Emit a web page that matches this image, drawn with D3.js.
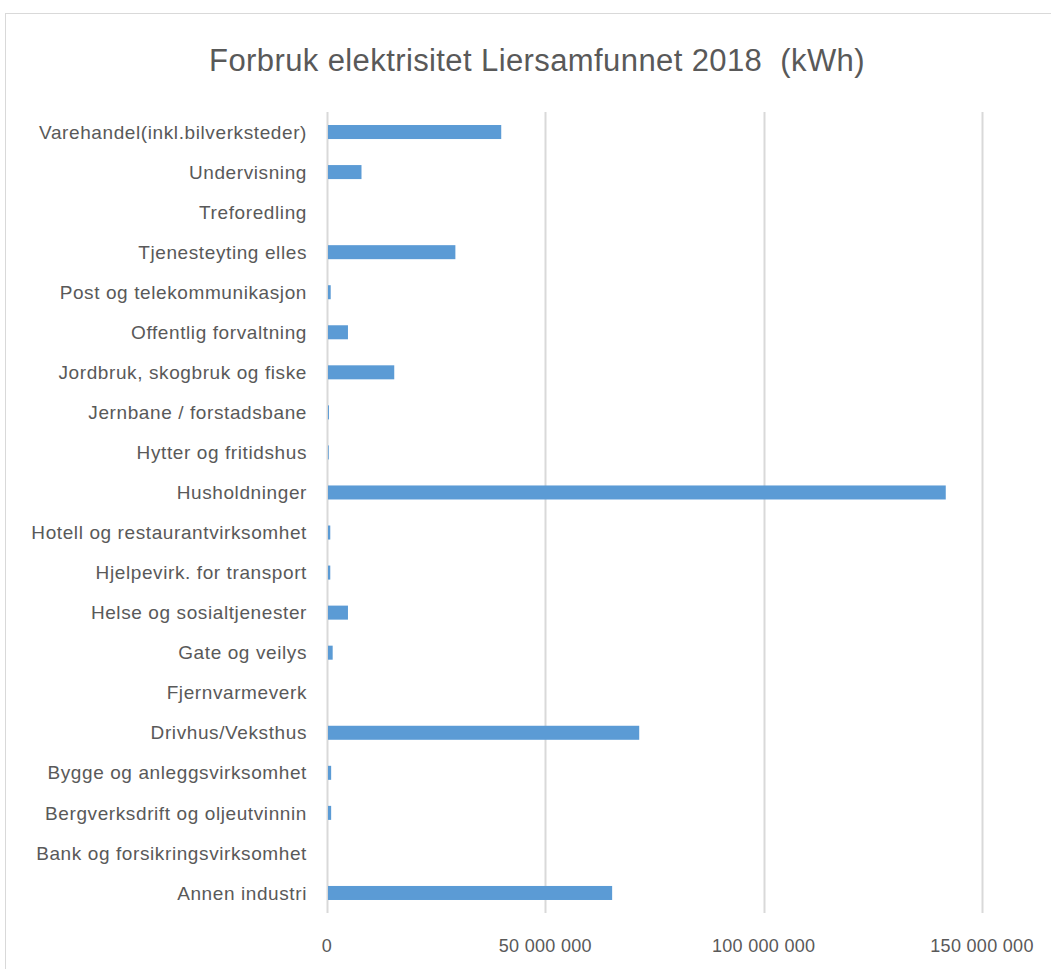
<!DOCTYPE html>
<html>
<head>
<meta charset="utf-8">
<script src="https://cdn.jsdelivr.net/npm/d3@7"></script>
<style>
  body { margin: 0; background: #fff; }
  text { font-family: "Liberation Sans", sans-serif; fill: #595959; white-space: pre; }
</style>
</head>
<body>
<svg id="chart" width="1051" height="969"></svg>
<script>
const title = "Forbruk elektrisitet Liersamfunnet 2018  (kWh)";

const categories = [
  "Varehandel(inkl.bilverksteder)",
  "Undervisning",
  "Treforedling",
  "Tjenesteyting elles",
  "Post og telekommunikasjon",
  "Offentlig forvaltning",
  "Jordbruk, skogbruk og fiske",
  "Jernbane / forstadsbane",
  "Hytter og fritidshus",
  "Husholdninger",
  "Hotell og restaurantvirksomhet",
  "Hjelpevirk. for transport",
  "Helse og sosialtjenester",
  "Gate og veilys",
  "Fjernvarmeverk",
  "Drivhus/Veksthus",
  "Bygge og anleggsvirksomhet",
  "Bergverksdrift og oljeutvinnin",
  "Bank og forsikringsvirksomhet",
  "Annen industri"
];

const values = [
  39900000, 7900000, 0, 29400000, 850000, 4800000, 15400000, 450000, 400000,
  141700000, 750000, 750000, 4800000, 1300000, 0, 71500000, 950000, 950000, 0,
  65300000
];

const xTicks = [0, 50000000, 100000000, 150000000];

const svg = d3.select("#chart");
const margin = { top: 112, left: 327, bottom: 913 };

// chart frame
svg.append("rect")
  .attr("x", 5.5).attr("y", 13.5)
  .attr("width", 1100).attr("height", 1000)
  .attr("fill", "none").attr("stroke", "#d9d9d9").attr("stroke-width", 1);

svg.append("text")
  .attr("x", 537).attr("y", 71)
  .attr("text-anchor", "middle")
  .style("font-size", "31px")
  .style("letter-spacing", "0.4px")
  .text(title);

const x = d3.scaleLinear().domain([0, 150000000]).range([margin.left, 982]);
const y = d3.scaleBand().domain(categories).range([margin.top, margin.bottom]).paddingInner(0.65).paddingOuter(0.325);

const fmt = d3.formatLocale({ decimal: ",", thousands: " ", grouping: [3], currency: ["", ""] }).format(",d");

// gridlines
svg.append("g")
  .selectAll("line")
  .data(xTicks)
  .join("line")
  .attr("x1", d => Math.round(x(d)) + 0.5)
  .attr("x2", d => Math.round(x(d)) + 0.5)
  .attr("y1", margin.top)
  .attr("y2", margin.bottom)
  .attr("stroke", "#d9d9d9")
  .attr("stroke-width", 2);

// bars
svg.append("g")
  .selectAll("rect")
  .data(categories.map((c, i) => ({ c, v: values[i] })))
  .join("rect")
  .attr("x", x(0) + 1)
  .attr("y", d => y(d.c))
  .attr("width", d => Math.max(0, x(d.v) - x(0) - 1))
  .attr("height", y.bandwidth())
  .attr("fill", "#5b9bd5");

// category labels
svg.append("g")
  .selectAll("text")
  .data(categories)
  .join("text")
  .attr("x", 307)
  .attr("y", d => y(d) + y.bandwidth() / 2)
  .attr("dy", "0.35em")
  .attr("text-anchor", "end")
  .style("font-size", "19px")
  .style("letter-spacing", "0.6px")
  .text(d => d);

// x tick labels
svg.append("g")
  .selectAll("text")
  .data(xTicks)
  .join("text")
  .attr("x", d => x(d))
  .attr("y", 952)
  .attr("text-anchor", "middle")
  .style("font-size", "18px")
  .style("letter-spacing", "0.3px")
  .text(d => fmt(d));
</script>
</body>
</html>
